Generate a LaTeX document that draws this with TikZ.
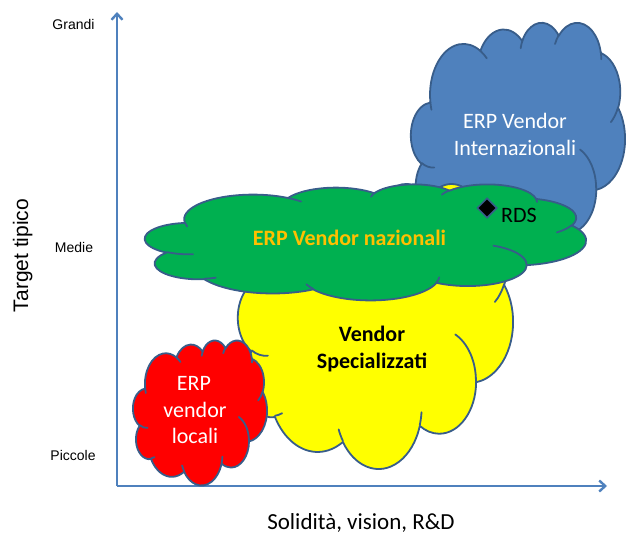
\documentclass[tikz,border=0pt]{standalone}
\usepackage{fontspec}
\setmainfont{Carlito}
\newfontfamily\arialf{Liberation Sans}
\usetikzlibrary{shapes.geometric,arrows.meta}

\definecolor{axisblue}{HTML}{4F81BD}
\definecolor{cloudedge}{HTML}{385D8A}
\definecolor{cblue}{HTML}{4F81BD}
\definecolor{cgreen}{HTML}{00B050}
\definecolor{cyellow}{HTML}{FFFF00}
\definecolor{cred}{HTML}{FF0000}
\definecolor{corange}{HTML}{FFC000}

% ---- cloud outline (PowerPoint-like cloud, in a 432 x 432 box) ----
\gdef\cloudOuter{(39,143.7)}
\newcommand\addOuter[4]{%
  \pgfmathsetmacro\clA{atan2(#1*sin(#3),#2*cos(#3))}%
  \pgfmathsetmacro\clB{atan2(#1*sin(#3+#4),#2*cos(#3+#4))}%
  \pgfmathsetmacro\clD{mod(\clB-\clA+720,360)}%
  \xdef\cloudOuter{\cloudOuter arc[x radius=#1,y radius=#2,start angle=\clA,delta angle=\clD]}%
}
\gdef\cloudInner{}
\newcommand\addInner[6]{%
  \pgfmathsetmacro\clA{atan2(#3*sin(#5),#4*cos(#5))}%
  \pgfmathsetmacro\clB{atan2(#3*sin(#5+#6),#4*cos(#5+#6))}%
  \pgfmathsetmacro\clD{mod(\clB-\clA+720,360)}%
  \xdef\cloudInner{\cloudInner (#1,#2) arc[x radius=#3,y radius=#4,start angle=\clA,delta angle=\clD]}%
}
\addOuter{67.53}{91.90}{-190.4875}{123.7805}
\addOuter{53.33}{72.67}{-144.1024}{89.9452}
\addOuter{43.65}{59.45}{-145.8079}{99.7230}
\addOuter{48.57}{65.95}{-130.9861}{117.2417}
\addOuter{53.33}{72.73}{-78.7089}{109.0269}
\addOuter{67.75}{92.20}{-46.2673}{130.2690}
\addOuter{57.85}{78.67}{0.6250}{114.0333}
\addOuter{67.52}{92.15}{22.4516}{115.1726}
\addOuter{77.20}{105.43}{66.2426}{75.7110}
\addOuter{43.60}{59.18}{-274.9421}{146.7356}
\addOuter{43.45}{59.45}{-246.8285}{152.5189}
\xdef\cloudOuter{\cloudOuter -- cycle}

\addInner{46.93}{261.77}{43.45}{59.45}{86.7420}{26.4295}
\addInner{69.28}{348.99}{43.60}{59.18}{73.6105}{11.4475}
\addInner{164.78}{390.90}{67.52}{92.15}{137.6242}{14.0811}
\addInner{288.27}{347.51}{67.52}{92.15}{6.4533}{15.9984}
\addInner{341.29}{229.54}{57.85}{78.67}{-70.2924}{70.9174}
\addInner{417.98}{153.54}{53.33}{72.73}{30.3180}{27.7515}
\addInner{383.24}{54.26}{48.57}{65.95}{-13.7443}{14.8589}
\addInner{290.78}{39.52}{48.57}{65.95}{-149.1815}{18.1954}
\addInner{221.41}{47.20}{43.65}{59.45}{-163.4943}{17.6864}
\addInner{140.00}{51.92}{67.53}{91.90}{-66.7070}{12.3194}
\addInner{41.27}{157.89}{67.53}{91.90}{157.6544}{11.8582}

\newcommand\drawcloud[5]{%
  \pgfmathsetmacro\clsx{#3/432}%
  \pgfmathsetmacro\clsy{#4/432}%
  \begin{scope}[shift={(#1,#2)}, x=\clsx pt, y=-\clsy pt]
    \path[cloudstroke, fill=#5] \cloudOuter;
    \path[cloudstroke, line cap=round] \cloudInner;
  \end{scope}%
}

\tikzset{
  cloudstroke/.style={draw=cloudedge, line width=1.8pt, line join=round},
  axisline/.style={draw=axisblue, line width=2.4pt, -{Straight Barb[length=6pt,width=11pt]}},
  cloudtext/.style={font=\fontsize{22}{26}\selectfont, anchor=base, inner sep=0pt},
  ticktext/.style={font=\arialf\fontsize{14}{16}\selectfont, anchor=base, inner sep=0pt},
}

\begin{document}
\begin{tikzpicture}[x=1pt, y=-1pt]
  \useasboundingbox (0,0) rectangle (626,535);

  % axes
  \coordinate (O) at (117,486);
  \coordinate (Ytip) at (117,12);
  \coordinate (Xtip) at (607,486);
  \draw[axisline] (O) -- (Ytip);
  \draw[axisline] (O) -- (Xtip);

  % clouds
  \drawcloud{411}{22}{214}{240}{cblue}
  \drawcloud{238}{183}{275}{285}{cyellow}
  \drawcloud{145}{184}{441}{116}{cgreen}
  \drawcloud{133}{340}{134}{145}{cred}

  % cloud labels
  \node[cloudtext, text=white] (intl1) at (515,128) {ERP Vendor};
  \node[cloudtext, text=white] (intl2) at (515,155) {Internazionali};
  \node[cloudtext, text=corange, font=\fontsize{22}{26}\selectfont\bfseries] (naz) at (349.5,245) {ERP Vendor nazionali};
  \node[cloudtext, font=\fontsize{22}{26}\selectfont\bfseries] (spec1) at (372,341) {Vendor};
  \node[cloudtext, font=\fontsize{22}{26}\selectfont\bfseries] (spec2) at (372,368) {Specializzati};
  \node[cloudtext, text=white] (loc1) at (194,390) {ERP};
  \node[cloudtext, text=white] (loc2) at (195,417) {vendor};
  \node[cloudtext, text=white] (loc3) at (195,443) {locali};

  % RDS marker
  \node[diamond, fill=black, draw=cloudedge, line width=1.5pt, minimum size=20pt, inner sep=0pt] (rdsmark) at (487,208) {};
  \node[cloudtext, anchor=base west] (rds) at (501,222) {RDS};

  % axis labels
  \node[ticktext] (grandi) at (73.5,30) {Grandi};
  \node[ticktext] (medie) at (74,252) {Medie};
  \node[ticktext] (piccole) at (73,460) {Piccole};
  \node[font=\arialf\fontsize{21}{24}\selectfont, rotate=90, anchor=base, inner sep=0pt] (ylab) at (28,255.5) {Target tipico};
  \node[font=\fontsize{23}{27}\selectfont, anchor=base, inner sep=0pt] (xlab) at (361,529.5) {Solidità, vision, R\&D};
\end{tikzpicture}
\end{document}
